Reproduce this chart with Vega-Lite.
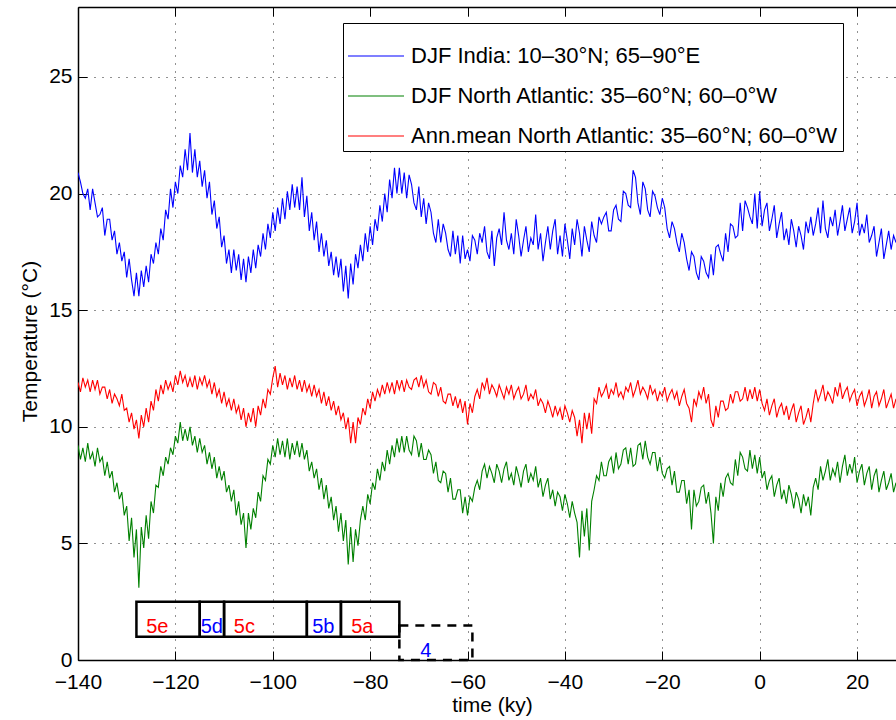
{
"$schema": "https://vega.github.io/schema/vega-lite/v6.json",
"width": 818, "height": 653,
"autosize": {"type": "none"},
"padding": {"left": 78, "top": 7, "right": 0, "bottom": 60},
"background": "white",
"config": {
  "view": {"stroke": null},
  "font": "Liberation Sans",
  "axis": {"labelFont": "Liberation Sans", "labelFontSize": 21, "labelColor": "black", "titleFont": "Liberation Sans", "titleFontSize": 21, "titleFontWeight": "normal", "titleColor": "black", "domainColor": "black", "domainWidth": 1.5, "tickColor": "black", "tickWidth": 1, "tickSize": -9, "gridColor": "#222222", "gridDash": [1, 7], "gridWidth": 1, "gridOpacity": 1},
  "legend": {"orient": "none", "legendX": 265, "legendY": 16, "symbolType": "stroke", "symbolSize": 3136, "symbolStrokeWidth": 1.2, "labelFont": "Liberation Sans", "labelFontSize": 22, "labelColor": "black", "strokeColor": "black", "fillColor": "white", "padding": 4, "rowPadding": -17, "labelOffset": 6, "labelLimit": 0}
},
"datasets": {
"series": [
{"t":-140,"a":20.9,"b":9.2,"c":11.9},{"t":-139.5,"a":20.5,"b":8.6,"c":11.5},{"t":-139,"a":20.0,"b":9.1,"c":12.1},{"t":-138.5,"a":19.8,"b":8.5,"c":11.7},{"t":-138,"a":20.2,"b":9.3,"c":12.0},{"t":-137.5,"a":19.3,"b":8.6,"c":11.5},{"t":-137,"a":20.2,"b":8.9,"c":12.0},{"t":-136.5,"a":19.6,"b":8.3,"c":11.6},{"t":-136,"a":19.0,"b":9.1,"c":12.0},{"t":-135.5,"a":19.1,"b":8.5,"c":11.4},
{"t":-135,"a":19.4,"b":8.7,"c":11.7},{"t":-134.5,"a":18.2,"b":7.9,"c":11.7},{"t":-134,"a":18.9,"b":8.5,"c":11.2},{"t":-133.5,"a":18.9,"b":7.8,"c":11.6},{"t":-133,"a":18.0,"b":8.1,"c":11.0},{"t":-132.5,"a":18.4,"b":7.2,"c":11.4},{"t":-132,"a":17.4,"b":7.6,"c":11.2},{"t":-131.5,"a":17.9,"b":6.9,"c":10.9},{"t":-131,"a":17.1,"b":7.2,"c":11.4},{"t":-130.5,"a":17.5,"b":6.2,"c":10.7},
{"t":-130,"a":16.4,"b":6.6,"c":10.8},{"t":-129.5,"a":17.2,"b":5.1,"c":10.2},{"t":-129,"a":16.3,"b":6.1,"c":10.6},{"t":-128.5,"a":15.6,"b":4.4,"c":9.9},{"t":-128,"a":16.6,"b":5.6,"c":10.3},{"t":-127.5,"a":15.6,"b":3.1,"c":9.5},{"t":-127,"a":16.7,"b":5.7,"c":10.5},{"t":-126.5,"a":16.0,"b":4.8,"c":10.0},{"t":-126,"a":16.9,"b":6.2,"c":10.8},{"t":-125.5,"a":16.2,"b":5.2,"c":10.2},
{"t":-125,"a":17.4,"b":6.8,"c":11.1},{"t":-124.5,"a":17.0,"b":6.3,"c":10.7},{"t":-124,"a":17.9,"b":7.5,"c":11.6},{"t":-123.5,"a":17.4,"b":7.4,"c":11.1},{"t":-123,"a":18.5,"b":8.3,"c":11.8},{"t":-122.5,"a":18.0,"b":7.9,"c":11.4},{"t":-122,"a":19.3,"b":8.7,"c":12.0},{"t":-121.5,"a":18.9,"b":8.4,"c":11.6},{"t":-121,"a":20.2,"b":9.1,"c":11.9},{"t":-120.5,"a":19.4,"b":8.8,"c":11.5},
{"t":-120,"a":20.5,"b":9.6,"c":12.2},{"t":-119.5,"a":20.0,"b":9.3,"c":11.8},{"t":-119,"a":21.2,"b":10.2,"c":12.4},{"t":-118.5,"a":20.7,"b":9.4,"c":11.9},{"t":-118,"a":21.9,"b":9.9,"c":12.2},{"t":-117.5,"a":21.0,"b":9.4,"c":11.7},{"t":-117,"a":22.6,"b":10.0,"c":12.1},{"t":-116.5,"a":20.9,"b":9.2,"c":11.7},{"t":-116,"a":21.9,"b":9.6,"c":12.2},{"t":-115.5,"a":20.7,"b":8.9,"c":11.6},
{"t":-115,"a":21.4,"b":9.5,"c":12.1},{"t":-114.5,"a":20.3,"b":8.9,"c":11.8},{"t":-114,"a":21.0,"b":9.2,"c":12.2},{"t":-113.5,"a":19.8,"b":8.4,"c":11.7},{"t":-113,"a":20.5,"b":8.9,"c":12.0},{"t":-112.5,"a":19.1,"b":8.2,"c":11.4},{"t":-112,"a":19.7,"b":8.7,"c":11.9},{"t":-111.5,"a":18.5,"b":7.8,"c":11.3},{"t":-111,"a":19.0,"b":8.3,"c":11.6},{"t":-110.5,"a":17.7,"b":7.7,"c":11.0},
{"t":-110,"a":18.2,"b":8.1,"c":11.5},{"t":-109.5,"a":17.0,"b":7.2,"c":10.9},{"t":-109,"a":17.6,"b":7.5,"c":11.2},{"t":-108.5,"a":16.6,"b":6.8,"c":10.7},{"t":-108,"a":17.6,"b":7.3,"c":11.2},{"t":-107.5,"a":16.7,"b":6.2,"c":10.6},{"t":-107,"a":17.4,"b":6.8,"c":10.9},{"t":-106.5,"a":16.3,"b":5.8,"c":10.3},{"t":-106,"a":17.2,"b":6.3,"c":10.8},{"t":-105.5,"a":16.2,"b":4.8,"c":10.0},
{"t":-105,"a":17.3,"b":6.3,"c":10.6},{"t":-104.5,"a":16.6,"b":5.6,"c":10.2},{"t":-104,"a":17.6,"b":6.5,"c":10.8},{"t":-103.5,"a":16.8,"b":6.1,"c":10.0},{"t":-103,"a":17.8,"b":7.2,"c":10.9},{"t":-102.5,"a":17.3,"b":6.8,"c":10.5},{"t":-102,"a":18.3,"b":7.9,"c":11.2},{"t":-101.5,"a":17.6,"b":7.7,"c":10.8},{"t":-101,"a":18.7,"b":8.6,"c":11.6},{"t":-100.5,"a":18.1,"b":8.4,"c":11.4},
{"t":-100,"a":19.2,"b":9.2,"c":12.1},{"t":-99.5,"a":18.4,"b":8.7,"c":12.6},{"t":-99,"a":19.4,"b":9.5,"c":11.7},{"t":-98.5,"a":18.7,"b":8.8,"c":12.3},{"t":-98,"a":19.8,"b":9.4,"c":11.8},{"t":-97.5,"a":18.9,"b":8.7,"c":12.2},{"t":-97,"a":20.1,"b":9.5,"c":11.6},{"t":-96.5,"a":19.3,"b":8.6,"c":12.1},{"t":-96,"a":20.4,"b":9.3,"c":11.7},{"t":-95.5,"a":19.4,"b":8.8,"c":12.2},
{"t":-95,"a":20.3,"b":9.4,"c":11.6},{"t":-94.5,"a":19.3,"b":8.7,"c":12.0},{"t":-94,"a":20.7,"b":9.3,"c":11.5},{"t":-93.5,"a":19.0,"b":8.6,"c":12.0},{"t":-93,"a":19.9,"b":9.0,"c":11.5},{"t":-92.5,"a":18.4,"b":8.1,"c":11.8},{"t":-92,"a":19.2,"b":8.5,"c":11.3},{"t":-91.5,"a":18.0,"b":7.8,"c":11.8},{"t":-91,"a":18.8,"b":8.2,"c":11.3},{"t":-90.5,"a":17.5,"b":7.3,"c":11.6},
{"t":-90,"a":18.3,"b":7.8,"c":11.0},{"t":-89.5,"a":17.3,"b":6.9,"c":11.5},{"t":-89,"a":18.0,"b":7.5,"c":10.9},{"t":-88.5,"a":16.9,"b":6.5,"c":11.3},{"t":-88,"a":17.5,"b":7.0,"c":10.7},{"t":-87.5,"a":16.5,"b":6.0,"c":11.1},{"t":-87,"a":17.3,"b":6.6,"c":10.5},{"t":-86.5,"a":16.4,"b":5.5,"c":10.9},{"t":-86,"a":17.2,"b":6.3,"c":10.3},{"t":-85.5,"a":15.8,"b":5.1,"c":10.6},
{"t":-85,"a":16.9,"b":6.0,"c":9.9},{"t":-84.5,"a":15.5,"b":4.1,"c":10.4},{"t":-84,"a":17.0,"b":5.7,"c":9.3},{"t":-83.5,"a":16.1,"b":4.2,"c":10.2},{"t":-83,"a":17.4,"b":5.6,"c":9.3},{"t":-82.5,"a":16.8,"b":4.9,"c":10.4},{"t":-82,"a":17.8,"b":6.0,"c":10.1},{"t":-81.5,"a":17.1,"b":6.6,"c":10.8},{"t":-81,"a":18.3,"b":6.0,"c":10.5},{"t":-80.5,"a":17.5,"b":7.1,"c":11.2},
{"t":-80,"a":18.6,"b":6.7,"c":10.8},{"t":-79.5,"a":17.8,"b":7.6,"c":11.5},{"t":-79,"a":18.9,"b":7.3,"c":11.1},{"t":-78.5,"a":18.4,"b":8.2,"c":11.6},{"t":-78,"a":19.5,"b":7.7,"c":11.3},{"t":-77.5,"a":18.8,"b":8.5,"c":11.8},{"t":-77,"a":20.0,"b":8.1,"c":11.4},{"t":-76.5,"a":19.2,"b":9.0,"c":11.9},{"t":-76,"a":20.6,"b":8.4,"c":11.5},{"t":-75.5,"a":19.8,"b":9.2,"c":11.9},
{"t":-75,"a":21.1,"b":8.7,"c":11.4},{"t":-74.5,"a":20.0,"b":9.5,"c":12.0},{"t":-74,"a":21.1,"b":8.9,"c":11.6},{"t":-73.5,"a":20.0,"b":9.6,"c":12.0},{"t":-73,"a":20.9,"b":8.9,"c":11.5},{"t":-72.5,"a":19.8,"b":9.6,"c":12.0},{"t":-72,"a":20.8,"b":9.0,"c":11.7},{"t":-71.5,"a":20.4,"b":8.8,"c":11.6},{"t":-71,"a":19.6,"b":9.6,"c":12.0},{"t":-70.5,"a":19.3,"b":9.4,"c":12.1},
{"t":-70,"a":20.3,"b":8.7,"c":11.7},{"t":-69.5,"a":19.0,"b":9.3,"c":12.2},{"t":-69,"a":19.8,"b":8.6,"c":11.7},{"t":-68.5,"a":18.7,"b":8.6,"c":12.0},{"t":-68,"a":19.6,"b":9.0,"c":11.5},{"t":-67.5,"a":19.2,"b":8.8,"c":11.4},{"t":-67,"a":18.3,"b":8.0,"c":11.9},{"t":-66.5,"a":17.9,"b":8.5,"c":11.8},{"t":-66,"a":18.9,"b":7.7,"c":11.3},{"t":-65.5,"a":17.9,"b":7.6,"c":11.7},
{"t":-65,"a":18.7,"b":8.1,"c":11.1},{"t":-64.5,"a":18.3,"b":8.0,"c":11.0},{"t":-64,"a":17.6,"b":7.2,"c":11.4},{"t":-63.5,"a":17.3,"b":7.8,"c":11.4},{"t":-63,"a":18.4,"b":6.9,"c":10.9},{"t":-62.5,"a":17.4,"b":6.9,"c":11.3},{"t":-62,"a":18.2,"b":7.3,"c":10.8},{"t":-61.5,"a":17.0,"b":7.3,"c":11.2},{"t":-61,"a":18.2,"b":6.3,"c":10.6},{"t":-60.5,"a":17.2,"b":7.0,"c":11.1},
{"t":-60,"a":17.6,"b":6.2,"c":10.1},{"t":-59.5,"a":17.1,"b":7.0,"c":11.0},{"t":-59,"a":18.2,"b":6.8,"c":10.6},{"t":-58.5,"a":18.0,"b":7.4,"c":11.3},{"t":-58,"a":17.4,"b":7.7,"c":11.6},{"t":-57.5,"a":18.3,"b":7.3,"c":11.2},{"t":-57,"a":17.9,"b":8.1,"c":11.9},{"t":-56.5,"a":18.6,"b":8.4,"c":11.6},{"t":-56,"a":17.5,"b":7.8,"c":12.1},{"t":-55.5,"a":17.2,"b":8.3,"c":11.4},
{"t":-55,"a":18.4,"b":8.0,"c":11.8},{"t":-54.5,"a":16.9,"b":7.6,"c":11.6},{"t":-54,"a":18.1,"b":8.4,"c":11.3},{"t":-53.5,"a":18.5,"b":8.1,"c":11.8},{"t":-53,"a":17.8,"b":7.6,"c":11.5},{"t":-52.5,"a":19.2,"b":8.2,"c":11.2},{"t":-52,"a":18.0,"b":8.5,"c":11.7},{"t":-51.5,"a":17.6,"b":7.7,"c":11.4},{"t":-51,"a":18.3,"b":8.0,"c":11.8},{"t":-50.5,"a":17.4,"b":7.5,"c":11.2},
{"t":-50,"a":18.9,"b":8.3,"c":11.5},{"t":-49.5,"a":18.2,"b":7.9,"c":11.7},{"t":-49,"a":17.3,"b":7.4,"c":11.2},{"t":-48.5,"a":18.0,"b":8.1,"c":11.4},{"t":-48,"a":18.6,"b":8.4,"c":11.8},{"t":-47.5,"a":17.5,"b":7.6,"c":11.1},{"t":-47,"a":18.1,"b":8.0,"c":11.4},{"t":-46.5,"a":17.8,"b":7.7,"c":11.2},{"t":-46,"a":19.1,"b":8.3,"c":11.6},{"t":-45.5,"a":17.6,"b":7.4,"c":10.9},
{"t":-45,"a":18.3,"b":7.8,"c":11.2},{"t":-44.5,"a":17.1,"b":7.0,"c":11.0},{"t":-44,"a":17.9,"b":7.5,"c":10.6},{"t":-43.5,"a":18.6,"b":7.8,"c":11.1},{"t":-43,"a":17.6,"b":6.9,"c":10.8},{"t":-42.5,"a":18.4,"b":7.3,"c":10.4},{"t":-42,"a":18.9,"b":6.6,"c":10.9},{"t":-41.5,"a":17.4,"b":7.2,"c":10.5},{"t":-41,"a":18.2,"b":7.0,"c":10.8},{"t":-40.5,"a":17.3,"b":6.4,"c":10.3},
{"t":-40,"a":18.7,"b":7.1,"c":10.9},{"t":-39.5,"a":18.0,"b":6.7,"c":10.6},{"t":-39,"a":17.2,"b":6.1,"c":10.2},{"t":-38.5,"a":18.5,"b":6.8,"c":10.7},{"t":-38,"a":17.8,"b":6.3,"c":10.4},{"t":-37.5,"a":18.9,"b":5.9,"c":9.6},{"t":-37,"a":18.3,"b":4.4,"c":10.3},{"t":-36.5,"a":17.3,"b":6.4,"c":9.3},{"t":-36,"a":18.6,"b":5.3,"c":10.6},{"t":-35.5,"a":18.0,"b":6.5,"c":9.9},
{"t":-35,"a":17.5,"b":4.7,"c":10.6},{"t":-34.5,"a":18.8,"b":6.8,"c":9.7},{"t":-34,"a":18.2,"b":7.3,"c":11.2},{"t":-33.5,"a":17.9,"b":7.9,"c":11.0},{"t":-33,"a":19.0,"b":7.7,"c":11.7},{"t":-32.5,"a":18.7,"b":8.5,"c":11.3},{"t":-32,"a":19.0,"b":7.9,"c":11.5},{"t":-31.5,"a":19.2,"b":7.9,"c":11.8},{"t":-31,"a":18.4,"b":8.5,"c":11.2},{"t":-30.5,"a":18.4,"b":8.7,"c":11.6},
{"t":-30,"a":19.3,"b":8.0,"c":11.4},{"t":-29.5,"a":19.5,"b":8.9,"c":11.9},{"t":-29,"a":18.9,"b":8.2,"c":11.3},{"t":-28.5,"a":18.8,"b":8.4,"c":11.5},{"t":-28,"a":20.1,"b":9.0,"c":11.2},{"t":-27.5,"a":20.0,"b":9.1,"c":11.7},{"t":-27,"a":19.5,"b":8.4,"c":11.5},{"t":-26.5,"a":19.4,"b":9.1,"c":11.9},{"t":-26,"a":21.0,"b":8.3,"c":11.3},{"t":-25.5,"a":20.7,"b":8.4,"c":11.6},
{"t":-25,"a":19.6,"b":9.2,"c":12.0},{"t":-24.5,"a":19.1,"b":9.3,"c":11.4},{"t":-24,"a":20.5,"b":8.6,"c":11.7},{"t":-23.5,"a":20.2,"b":9.4,"c":11.5},{"t":-23,"a":19.3,"b":8.7,"c":11.2},{"t":-22.5,"a":19.0,"b":8.4,"c":11.8},{"t":-22,"a":20.1,"b":8.9,"c":11.4},{"t":-21.5,"a":19.9,"b":8.9,"c":11.6},{"t":-21,"a":19.4,"b":8.1,"c":11.1},{"t":-20.5,"a":19.1,"b":8.7,"c":11.5},
{"t":-20,"a":19.8,"b":8.0,"c":11.3},{"t":-19.5,"a":19.4,"b":7.8,"c":11.7},{"t":-19,"a":18.5,"b":8.2,"c":11.1},{"t":-18.5,"a":18.1,"b":8.3,"c":11.4},{"t":-18,"a":18.8,"b":7.5,"c":11.6},{"t":-17.5,"a":18.5,"b":8.1,"c":11.2},{"t":-17,"a":17.9,"b":7.2,"c":11.5},{"t":-16.5,"a":17.5,"b":7.2,"c":10.9},{"t":-16,"a":18.3,"b":7.7,"c":11.3},{"t":-15.5,"a":17.9,"b":7.7,"c":11.6},
{"t":-15,"a":17.2,"b":6.7,"c":11.0},{"t":-14.5,"a":16.7,"b":7.3,"c":10.8},{"t":-14,"a":17.5,"b":5.6,"c":10.2},{"t":-13.5,"a":17.3,"b":7.3,"c":11.2},{"t":-13,"a":16.6,"b":6.6,"c":10.9},{"t":-12.5,"a":16.3,"b":6.8,"c":11.5},{"t":-12,"a":17.3,"b":7.4,"c":11.2},{"t":-11.5,"a":17.1,"b":7.5,"c":11.7},{"t":-11,"a":16.6,"b":6.7,"c":11.0},{"t":-10.5,"a":16.4,"b":7.2,"c":11.4},
{"t":-10,"a":17.4,"b":6.3,"c":10.3},{"t":-9.5,"a":16.5,"b":5.0,"c":10.0},{"t":-9,"a":17.7,"b":7.0,"c":10.9},{"t":-8.5,"a":17.8,"b":6.4,"c":10.4},{"t":-8,"a":17.4,"b":7.6,"c":11.1},{"t":-7.5,"a":17.1,"b":7.0,"c":11.1},{"t":-7,"a":18.3,"b":7.8,"c":10.7},{"t":-6.5,"a":17.5,"b":8.0,"c":10.8},{"t":-6,"a":18.7,"b":7.6,"c":11.4},{"t":-5.5,"a":18.6,"b":7.5,"c":11.0},
{"t":-5,"a":18.1,"b":8.6,"c":11.5},{"t":-4.5,"a":18.2,"b":7.9,"c":11.5},{"t":-4,"a":19.6,"b":8.9,"c":11.1},{"t":-3.5,"a":18.4,"b":8.7,"c":11.2},{"t":-3,"a":19.7,"b":8.2,"c":11.7},{"t":-2.5,"a":19.4,"b":8.1,"c":11.1},{"t":-2,"a":19.0,"b":9.0,"c":11.6},{"t":-1.5,"a":18.7,"b":8.2,"c":11.2},{"t":-1,"a":20.0,"b":8.8,"c":11.7},{"t":-0.5,"a":18.5,"b":8.0,"c":11.1},
{"t":0,"a":20.1,"b":8.7,"c":11.6},{"t":0.5,"a":18.6,"b":7.8,"c":11.0},{"t":1,"a":19.3,"b":8.1,"c":10.7},{"t":1.5,"a":19.6,"b":7.3,"c":11.2},{"t":2,"a":18.4,"b":7.7,"c":10.5},{"t":2.5,"a":18.9,"b":7.9,"c":10.9},{"t":3,"a":19.5,"b":7.0,"c":11.2},{"t":3.5,"a":18.1,"b":7.5,"c":10.4},{"t":4,"a":18.7,"b":7.8,"c":10.8},{"t":4.5,"a":19.2,"b":6.9,"c":11.0},
{"t":5,"a":18.0,"b":7.3,"c":10.5},{"t":5.5,"a":18.5,"b":6.7,"c":10.9},{"t":6,"a":17.8,"b":7.5,"c":10.3},{"t":6.5,"a":18.9,"b":7.1,"c":10.7},{"t":7,"a":18.4,"b":6.5,"c":11.0},{"t":7.5,"a":17.7,"b":7.2,"c":10.2},{"t":8,"a":18.6,"b":6.9,"c":10.6},{"t":8.5,"a":18.2,"b":6.3,"c":10.9},{"t":9,"a":17.6,"b":7.1,"c":10.1},{"t":9.5,"a":18.8,"b":6.6,"c":10.4},
{"t":10,"a":18.3,"b":7.0,"c":10.8},{"t":10.5,"a":19.0,"b":6.2,"c":10.2},{"t":11,"a":18.2,"b":7.4,"c":11.0},{"t":11.5,"a":18.7,"b":7.8,"c":11.6},{"t":12,"a":19.4,"b":7.3,"c":11.1},{"t":12.5,"a":18.3,"b":8.3,"c":11.4},{"t":13,"a":19.7,"b":7.7,"c":11.8},{"t":13.5,"a":18.5,"b":8.1,"c":11.1},{"t":14,"a":18.1,"b":8.6,"c":11.5},{"t":14.5,"a":19.0,"b":7.7,"c":11.3},
{"t":15,"a":18.6,"b":8.2,"c":11.0},{"t":15.5,"a":19.3,"b":7.9,"c":11.7},{"t":16,"a":18.2,"b":8.5,"c":11.3},{"t":16.5,"a":18.8,"b":7.6,"c":11.9},{"t":17,"a":19.5,"b":8.3,"c":11.2},{"t":17.5,"a":18.4,"b":8.8,"c":11.5},{"t":18,"a":18.9,"b":7.9,"c":11.7},{"t":18.5,"a":19.4,"b":8.4,"c":11.1},{"t":19,"a":18.3,"b":8.0,"c":11.4},{"t":19.5,"a":18.8,"b":8.7,"c":11.6},
{"t":20,"a":19.6,"b":7.6,"c":10.9},{"t":20.5,"a":18.2,"b":8.1,"c":11.3},{"t":21,"a":18.7,"b":8.4,"c":11.5},{"t":21.5,"a":18.3,"b":7.5,"c":10.9},{"t":22,"a":19.1,"b":8.0,"c":11.2},{"t":22.5,"a":17.9,"b":8.3,"c":11.6},{"t":23,"a":18.2,"b":7.3,"c":10.8},{"t":23.5,"a":18.6,"b":7.9,"c":11.3},{"t":24,"a":17.3,"b":8.2,"c":11.5},{"t":24.5,"a":17.9,"b":7.2,"c":10.9},
{"t":25,"a":18.5,"b":7.7,"c":11.2},{"t":25.5,"a":17.2,"b":8.1,"c":11.6},{"t":26,"a":17.8,"b":7.3,"c":10.8},{"t":26.5,"a":18.4,"b":7.6,"c":11.1},{"t":27,"a":17.6,"b":8.0,"c":11.4},{"t":27.5,"a":18.2,"b":7.2,"c":10.8},{"t":28,"a":17.9,"b":7.6,"c":11.2}
],
"boxes": [
{"stage":"5e","start":-128,"end":-115,"low":1,"high":2.5},
{"stage":"5d","start":-115,"end":-110,"low":1,"high":2.5},
{"stage":"5c","start":-110,"end":-93,"low":1,"high":2.5},
{"stage":"5b","start":-93,"end":-86,"low":1,"high":2.5},
{"stage":"5a","start":-86,"end":-74,"low":1,"high":2.5}
],
"stage4": [
{"stage":"4","start":-74,"end":-59,"low":0,"high":1.48}
],
"labels": [
{"stage":"5e","x":-126,"y":1.15,"phase":"warm"},
{"stage":"5d","x":-114.8,"y":1.15,"phase":"cold"},
{"stage":"5c","x":-108,"y":1.15,"phase":"warm"},
{"stage":"5b","x":-91.9,"y":1.15,"phase":"cold"},
{"stage":"5a","x":-83.9,"y":1.15,"phase":"warm"},
{"stage":"4","x":-69.7,"y":0.13,"phase":"cold"}
]
},
"resolve": {"axis": {"x": "independent", "y": "independent"}},
"layer": [
{
  "data": {"name": "series"},
  "transform": [{"fold": ["a", "b", "c"], "as": ["key", "value"]}],
  "mark": {"type": "line", "strokeWidth": 1.1, "clip": true},
  "encoding": {
    "x": {"field": "t", "type": "quantitative", "scale": {"domain": [-140, 28], "nice": false, "zero": false},
      "axis": {"orient": "bottom", "values": [-140, -120, -100, -80, -60, -40, -20, 0, 20], "grid": true, "title": "time (ky)", "titleX": 414, "titleY": 51, "titleBaseline": "alphabetic", "titleAnchor": "middle", "titleAlign": "center", "labelPadding": 20, "labelFlush": false, "labelOverlap": false}},
    "y": {"field": "value", "type": "quantitative", "scale": {"domain": [0, 28], "nice": false, "zero": false},
      "axis": {"values": [0, 5, 10, 15, 20, 25], "grid": true, "title": "Temperature (°C)", "titleX": -42, "titleY": 334, "titleAngle": -90, "titleBaseline": "alphabetic", "titleAlign": "center", "titleAnchor": "middle", "labelPadding": 15, "labelFlush": false, "labelOverlap": false}},
    "color": {"field": "key", "type": "nominal", "scale": {"domain": ["a", "b", "c"], "range": ["#0000ff", "#008000", "#ff0000"]},
      "legend": {"title": null, "labelExpr": "datum.value == 'a' ? 'DJF India: 10–30°N; 65–90°E' : datum.value == 'b' ? 'DJF North Atlantic: 35–60°N; 60–0°W' : 'Ann.mean North Atlantic: 35–60°N; 60–0°W'"}}
  }
},
{
  "data": {"name": "boxes"},
  "mark": {"type": "rect", "fillOpacity": 0, "stroke": "black", "strokeWidth": 2.5},
  "encoding": {
    "x": {"field": "start", "type": "quantitative", "axis": {"orient": "top", "values": [-140, -120, -100, -80, -60, -40, -20, 0, 20], "labels": false, "grid": false, "title": null}},
    "x2": {"field": "end"},
    "y": {"field": "low", "type": "quantitative", "axis": null},
    "y2": {"field": "high"}
  }
},
{
  "data": {"name": "stage4"},
  "mark": {"type": "rect", "fillOpacity": 0, "stroke": "black", "strokeWidth": 2.5, "strokeDash": [9, 7]},
  "encoding": {
    "x": {"field": "start", "type": "quantitative", "axis": null},
    "x2": {"field": "end"},
    "y": {"field": "low", "type": "quantitative", "axis": null},
    "y2": {"field": "high"}
  }
},
{
  "data": {"name": "labels"},
  "transform": [{"filter": "datum.phase == 'warm'"}],
  "mark": {"type": "text", "align": "left", "baseline": "alphabetic", "fontSize": 20, "font": "Liberation Sans", "color": "#ff0000"},
  "encoding": {
    "x": {"field": "x", "type": "quantitative", "axis": null},
    "y": {"field": "y", "type": "quantitative", "axis": null},
    "text": {"field": "stage"}
  }
},
{
  "data": {"name": "labels"},
  "transform": [{"filter": "datum.phase == 'cold'"}],
  "mark": {"type": "text", "align": "left", "baseline": "alphabetic", "fontSize": 20, "font": "Liberation Sans", "color": "#0000ff"},
  "encoding": {
    "x": {"field": "x", "type": "quantitative", "axis": null},
    "y": {"field": "y", "type": "quantitative", "axis": null},
    "text": {"field": "stage"}
  }
}
]
}
